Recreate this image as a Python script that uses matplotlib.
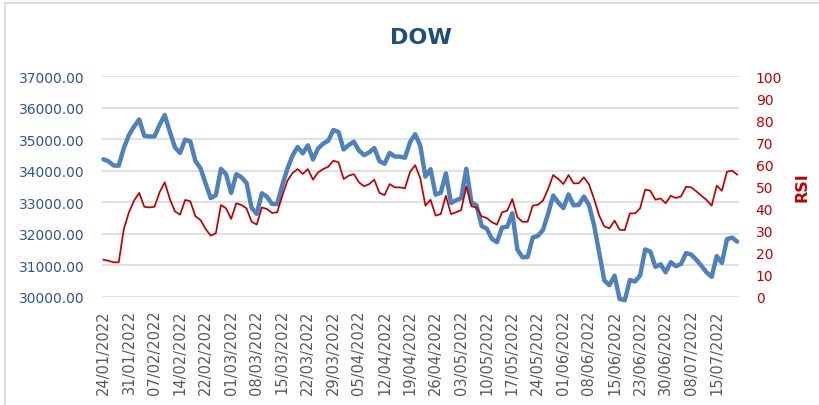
import matplotlib
matplotlib.use("Agg")
import matplotlib.pyplot as plt
from matplotlib.lines import Line2D

title = "DOW"
tick_labels = ["24/01/2022", "31/01/2022", "07/02/2022", "14/02/2022", "22/02/2022",
               "01/03/2022", "08/03/2022", "15/03/2022", "22/03/2022", "29/03/2022",
               "05/04/2022", "12/04/2022", "19/04/2022", "26/04/2022", "03/05/2022",
               "10/05/2022", "17/05/2022", "24/05/2022", "01/06/2022", "08/06/2022",
               "15/06/2022", "23/06/2022", "30/06/2022", "08/07/2022", "15/07/2022"]
label_step = 5

dow = [34364, 34298, 34168, 34161, 34725, 35132, 35405, 35629, 35111, 35090,
       35091, 35463, 35768, 35242, 34738, 34566, 34989, 34934, 34312, 34079,
       33597, 33132, 33224, 34059, 33893, 33295, 33891, 33795, 33615, 32817,
       32633, 33286, 33174, 32944, 32945, 33544, 34063, 34481, 34755, 34553,
       34807, 34359, 34708, 34861, 34956, 35294, 35229, 34678, 34818, 34922,
       34641, 34497, 34584, 34721, 34308, 34220, 34565, 34451, 34451, 34412,
       34911, 35161, 34793, 33811, 34049, 33240, 33302, 33916, 32977, 33061,
       33129, 34061, 32998, 32899, 32246, 32161, 31834, 31730, 32197, 32223,
       32655, 31490, 31253, 31262, 31880, 31929, 32120, 32637, 33213, 32990,
       32813, 33248, 32900, 32916, 33180, 32911, 32273, 31393, 30517, 30365,
       30669, 29927, 29889, 30530, 30483, 30677, 31501, 31438, 30947, 31029,
       30775, 31097, 30968, 31038, 31385, 31338, 31174, 30981, 30773, 30630,
       31288, 31073, 31827, 31875, 31750]

rsi = [16.8, 16.3, 15.6, 15.6, 30.7, 38.3, 43.6, 47.1, 40.8, 40.5,
       40.8, 47.4, 51.9, 44.3, 38.7, 37.2, 43.9, 43.3, 36.5, 34.8,
       30.7, 27.7, 28.8, 41.6, 40.1, 35.3, 42.4, 41.6, 40.1, 34.0,
       32.7, 40.5, 39.8, 38.0, 38.3, 45.8, 52.6, 56.1, 57.9, 55.7,
       57.9, 53.1, 56.4, 57.9, 59.0, 61.7, 61.0, 53.4, 54.9, 55.6,
       51.9, 50.1, 51.1, 53.1, 47.1, 46.1, 51.1, 49.6, 49.6, 49.2,
       56.7, 59.7, 53.7, 41.3, 44.0, 36.8, 37.5, 45.8, 37.5, 38.3,
       39.3, 50.1, 41.0, 40.5, 36.5, 35.7, 33.8, 32.7, 38.3, 39.0,
       44.3, 36.0, 34.0, 34.0, 41.3, 41.7, 43.6, 48.9, 55.2, 53.4,
       51.1, 55.2, 51.4, 51.5, 54.2, 51.0, 44.3, 36.8, 31.9, 31.0,
       34.5, 30.4, 30.2, 37.8, 37.8, 40.1, 48.6, 48.1, 44.0, 44.6,
       42.4, 45.8, 44.8, 45.5, 49.9, 49.6, 47.8, 45.8, 43.9, 41.3,
       50.4, 48.1, 56.7, 57.2, 55.4]

left_ticks = [30000, 31000, 32000, 33000, 34000, 35000, 36000, 37000]
right_ticks = [0, 10, 20, 30, 40, 50, 60, 70, 80, 90, 100]

W, H = 820, 406
fig = plt.figure(figsize=(W / 100, H / 100), dpi=100)
fig.patch.set_facecolor("white")

L, R, T, B = 101.7, 739.0, 77.3, 297.7
ax = fig.add_axes([L / W, 1 - B / H, (R - L) / W, (B - T) / H])
ax2 = ax.twinx()

x = list(range(len(dow)))
ax.plot(x, dow, color="#4F81BD", lw=3.2, solid_joinstyle="round",
        solid_capstyle="round", clip_on=False, zorder=3)
ax2.plot(x, rsi, color="#C00000", lw=1.25, solid_joinstyle="round", zorder=3)

ax.set_xlim(-0.33, len(dow) - 1 + 0.35)
ax.set_ylim(30000, 37000)
ax2.set_ylim(0, 100)

ax.set_yticks(left_ticks)
ax.set_yticklabels([f"{v:.2f}" for v in left_ticks], color="#2F5597", fontsize=10)
ax2.set_yticks(right_ticks)
ax2.set_yticklabels([str(v) for v in right_ticks], color="#C00000", fontsize=10)

ax.set_xticks([i * label_step for i in range(len(tick_labels))])
ax.set_xticklabels(tick_labels, rotation=90, color="#595959", fontsize=10.5)

ax.grid(axis="y", color="#D9D9D9", lw=1.1)
ax.set_axisbelow(True)
for a in (ax, ax2):
    for s in a.spines.values():
        s.set_visible(False)
    a.tick_params(length=0)
ax.tick_params(axis="y", pad=12)
ax.tick_params(axis="x", pad=9)
ax2.tick_params(axis="y", pad=12)

fig.text(421 / W, 1 - 37.5 / H, title, ha="center", va="center",
         fontsize=16, fontweight="bold", color="#1F4E79")
fig.text(801.7 / W, 1 - 187.5 / H, "RSI", ha="center", va="center",
         rotation=90, fontsize=11.5, fontweight="bold", color="#C00000")

# chart area border (left and top visible)
fig.add_artist(Line2D([5 / W, 5 / W], [0, 1 - 4 / H], transform=fig.transFigure,
                      color="#D9D9D9", lw=1.2))
fig.add_artist(Line2D([5 / W, 1], [1 - 4 / H, 1 - 4 / H], transform=fig.transFigure,
                      color="#D9D9D9", lw=1.2))

fig.savefig("out.png", dpi=100, facecolor="white")
